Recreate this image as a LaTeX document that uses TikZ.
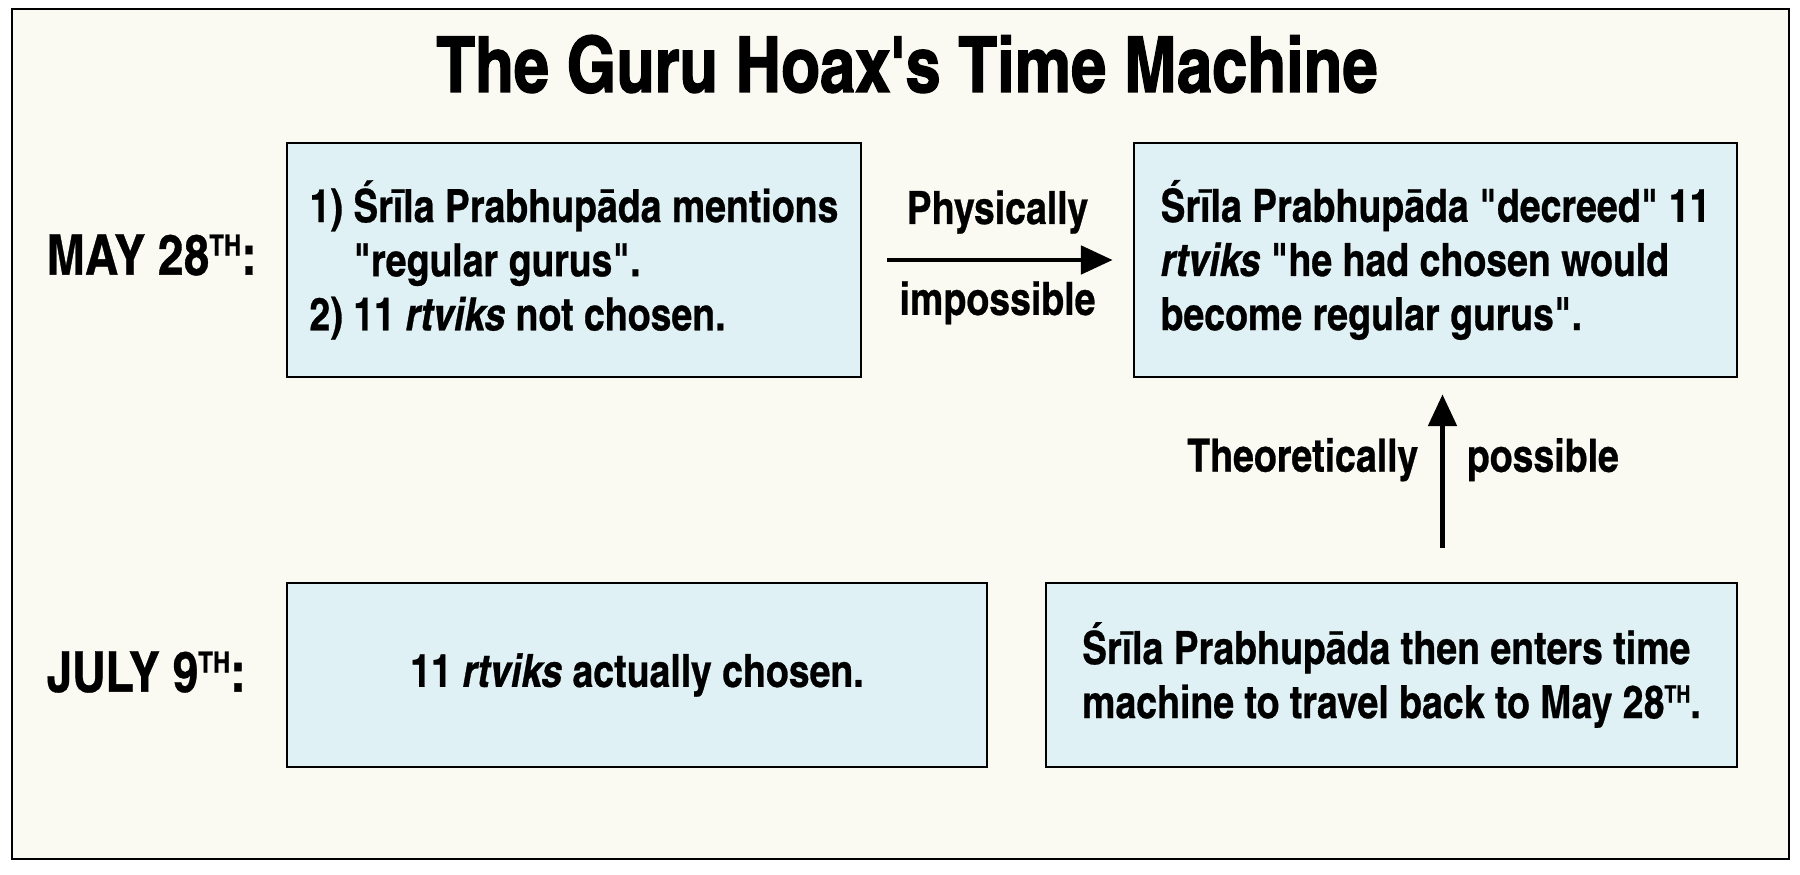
\documentclass[tikz,border=0pt]{standalone}
\usepackage{fontspec}
\setmainfont{texgyreheroscn}[Extension=.otf, UprightFont=*-regular, BoldFont=*-bold, ItalicFont=*-italic, BoldItalicFont=*-bolditalic, BoldFeatures={FakeBold=0.6}, BoldItalicFeatures={FakeBold=0.6}]
\newfontfamily\titlefont{texgyreheroscn-bold}[Extension=.otf, FakeBold=1.6]
\usetikzlibrary{positioning,arrows.meta}
\definecolor{paper}{HTML}{FAFAF3}
\definecolor{boxblue}{HTML}{DFF1F5}
\newcommand{\thsup}{\raisebox{0.34em}{\scalebox{0.52}{TH}}}
\newcommand{\qq}{\textquotedbl}
\begin{document}
\begin{tikzpicture}[
	event/.style={draw, line width=0.8pt, fill=boxblue, align=left, inner sep=0pt, font=\fontsize{13}{15.4}\selectfont\bfseries},
	date/.style={anchor=west, inner sep=0pt, font=\fontsize{16}{18}\selectfont\bfseries},
	tag/.style={inner sep=2pt, font=\fontsize{13}{15.4}\selectfont\bfseries},
	arr/.style={line width=1.3pt, -{Triangle[length=9pt,width=8pt]}}
]
	\fill[white] (0, 0) rectangle (18, 8.74);
	\draw[line width=0.8pt, fill=paper] (0.12, 0.15) rectangle (17.89, 8.65);

	\node[anchor=base, font=\fontsize{22}{25}\selectfont\titlefont] at (9.07, 7.82) (title) {The Guru Hoax\textquotesingle s Time Machine};

	\node[date] at (0.46, 6.19) (may) {MAY 28\thsup:};
	\node[date] at (0.46, 2.02) (july) {JULY 9\thsup:};

	\node[event, minimum width=5.74cm, minimum height=2.34cm] at (5.74, 6.14) (mentions) {1) Śrīla Prabhupāda mentions\\\phantom{1) }\qq regular gurus\qq.\\2) 11 \textit{rtviks} not chosen.};
	\node[event, minimum width=6.03cm, minimum height=2.34cm] at (14.355, 6.14) (decreed) {Śrīla Prabhupāda \qq decreed\qq{} 11\\\textit{rtviks} \qq he had chosen would\\become regular gurus\qq.};
	\node[event, minimum width=7.00cm, minimum height=1.84cm] at (6.37, 1.99) (chosen) {11 \textit{rtviks} actually chosen.};
	\node[event, minimum width=6.91cm, minimum height=1.84cm] at (13.915, 1.99) (travel) {Śrīla Prabhupāda then enters time\\machine to travel back to May 28\thsup.};

	\draw[arr, shorten <=0.25cm, shorten >=0.2cm] (mentions.east) -- (decreed.west)
		node[tag, midway, above=0.17cm] (phys) {Physically}
		node[tag, midway, below=0.12cm] (imposs) {impossible};
	\draw[arr, shorten <=0.34cm, shorten >=0.16cm] ([xshift=0.07cm]decreed.south |- travel.north) -- ([xshift=0.07cm]decreed.south)
		node[tag, pos=0.6, left=0.15cm] (theo) {Theoretically}
		node[tag, pos=0.6, right=0.15cm] (poss) {possible};
\end{tikzpicture}
\end{document}
